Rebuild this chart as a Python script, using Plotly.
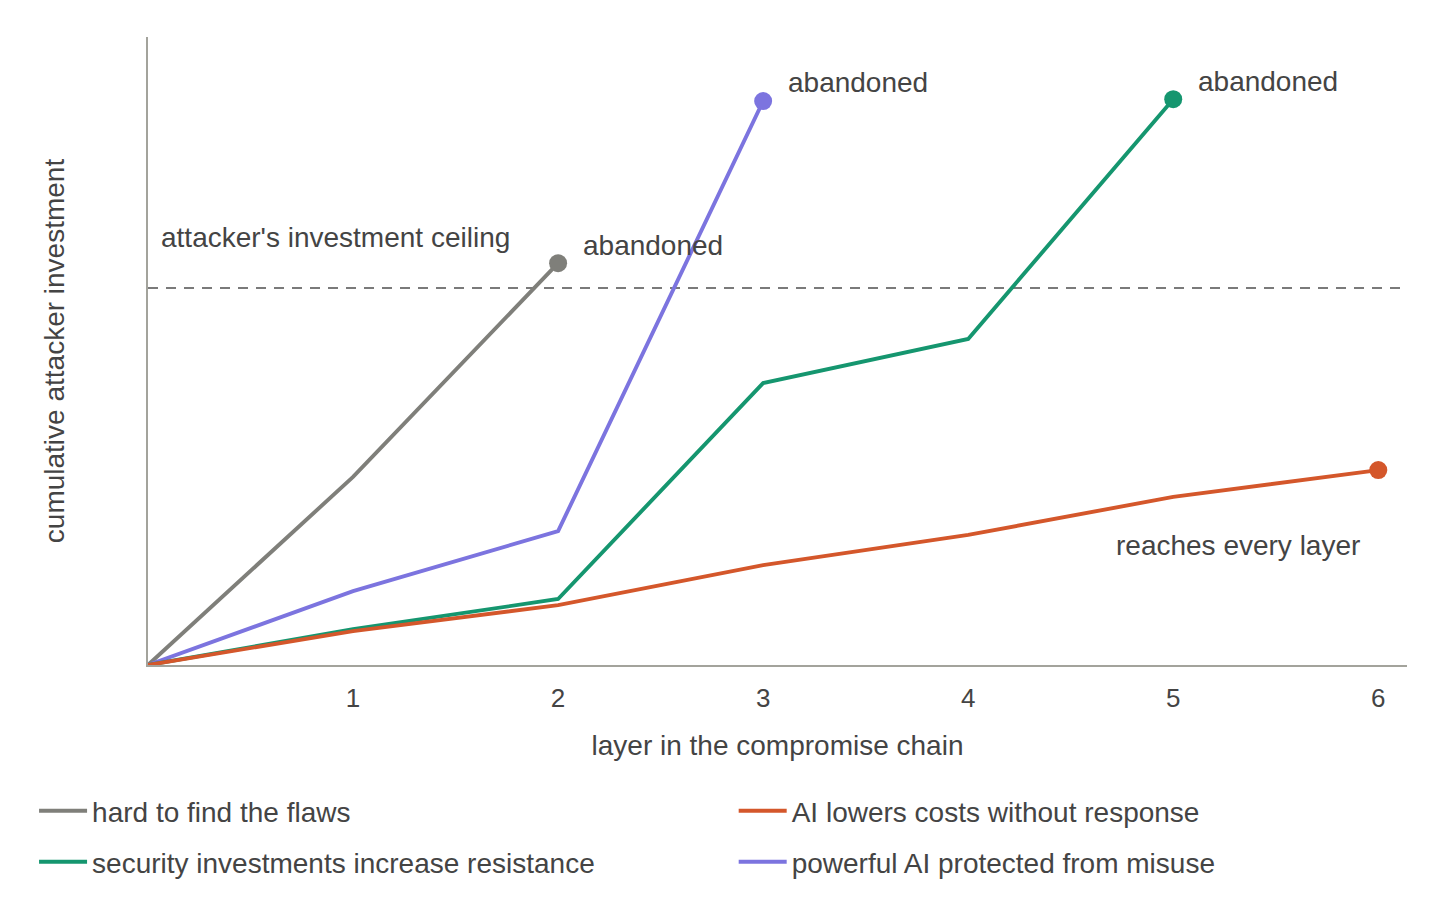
import plotly.graph_objects as go

# layers in the compromise chain
layers = [0, 1, 2, 3, 4, 5, 6]

# cumulative attacker investment (ceiling = 10)
hard_flaws = [0, 4.99, 10.66]
ai_no_response = [0, 0.90, 1.59, 2.65, 3.45, 4.46, 5.17]
security_invest = [0, 0.95, 1.75, 7.48, 8.65, 15.01]
ai_protected = [0, 1.96, 3.55, 14.96]
ceiling = 10

# (label, values, colour, legend slot)
series = [
    ("hard to find the flaws", hard_flaws, "#7f7f7a", "legend"),
    ("AI lowers costs without response", ai_no_response, "#d4572b", "legend2"),
    ("security investments increase resistance", security_invest, "#15966f", "legend3"),
    ("powerful AI protected from misuse", ai_protected, "#7c74df", "legend4"),
]
draw_order = [0, 3, 2, 1]

txt = "#444444"
font = "Liberation Sans, Arial, sans-serif"

fig = go.Figure()
for i in draw_order:
    name, vals, col, leg = series[i]
    xs = layers[:len(vals)]
    fig.add_trace(go.Scatter(x=xs, y=vals, mode="lines", name=name, legend=leg,
                             line=dict(color=col, width=3.9)))
for name, vals, col, leg in series:
    fig.add_trace(go.Scatter(x=[layers[len(vals) - 1]], y=[vals[-1]], mode="markers",
                             marker=dict(color=col, size=18), showlegend=False,
                             hoverinfo="skip"))

fig.add_shape(type="line", xref="paper", yref="y", x0=0, x1=1, y0=ceiling, y1=ceiling,
              line=dict(color="#7a7a7a", width=2, dash="10px,8px"), layer="below")

def note(x, y, s, anchor="left"):
    fig.add_annotation(x=x, y=y, text=s, showarrow=False, xanchor=anchor,
                       yanchor="middle", font=dict(size=28, color=txt))

note(0.055, 11.35, "attacker's investment ceiling")
note(2.11, hard_flaws[-1] + 0.48, "abandoned")
note(3.11, ai_protected[-1] + 0.5, "abandoned")
note(5.11, security_invest[-1] + 0.47, "abandoned")
note(5.92, 3.17, "reaches every layer", anchor="right")

leg_common = dict(orientation="h", xanchor="left", yanchor="middle", itemwidth=48,
                  font=dict(size=28, color=txt), bgcolor="rgba(0,0,0,0)")
col_x = [-0.0905, 0.4652]
row_y = [-0.2325, -0.3137]

# page body has an 8px margin, so the plot area is shifted back by 8px
fig.update_layout(
    width=1456, height=906,
    margin=dict(l=140, r=57, t=29, b=249),
    paper_bgcolor="white", plot_bgcolor="white",
    font=dict(family=font, size=26, color=txt),
    showlegend=True,
    legend=dict(x=col_x[0], y=row_y[0], **leg_common),
    legend2=dict(x=col_x[1], y=row_y[0], **leg_common),
    legend3=dict(x=col_x[0], y=row_y[1], **leg_common),
    legend4=dict(x=col_x[1], y=row_y[1], **leg_common),
    xaxis=dict(range=[0, 6.14], tickvals=[1, 2, 3, 4, 5, 6], showgrid=False,
               zeroline=False, showline=True, linecolor="#a3a39c", linewidth=2,
               ticks="", ticklabelstandoff=9, automargin=False,
               title=dict(text="layer in the compromise chain", standoff=23,
                          font=dict(size=28, color=txt)),
               tickfont=dict(size=26, color=txt)),
    yaxis=dict(range=[0, 16.66], showticklabels=False, showgrid=False, zeroline=False,
               showline=True, linecolor="#a3a39c", linewidth=2, ticks="",
               automargin=False,
               title=dict(text="cumulative attacker investment", standoff=73,
                          font=dict(size=28, color=txt))),
)

fig.write_html("out.html")
